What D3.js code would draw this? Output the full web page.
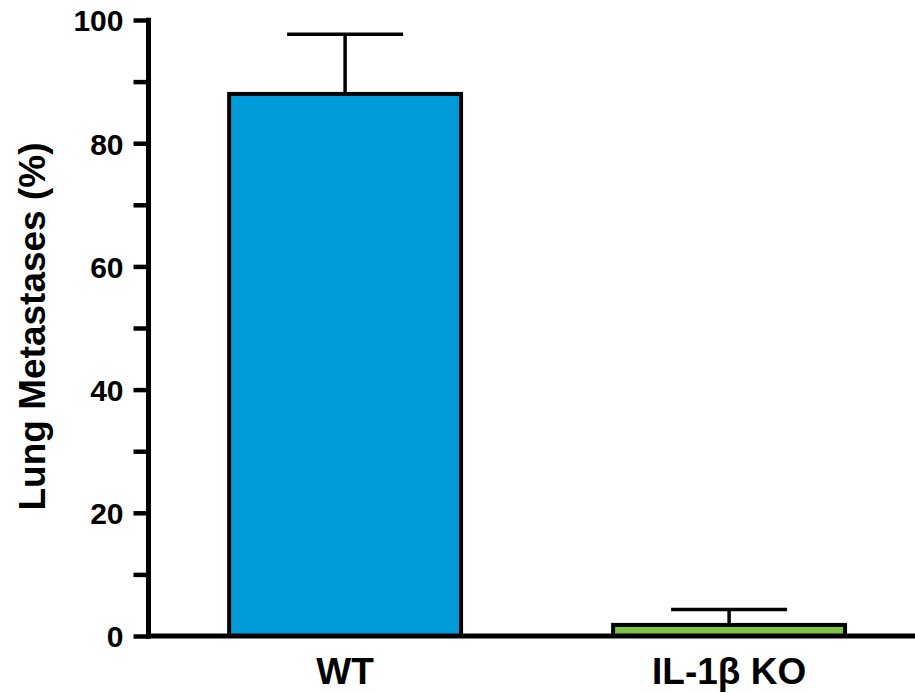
<!DOCTYPE html>
<html>
<head>
<meta charset="utf-8">
<script src="https://cdn.jsdelivr.net/npm/d3@7"></script>
<style>
  html, body { margin: 0; padding: 0; background: #fff; }
  svg { display: block; font-family: Arial, "Liberation Sans", sans-serif; }
</style>
</head>
<body>
<svg id="chart" width="915" height="693"></svg>
<script>
const categories = ["WT", "IL-1\u03B2 KO"];
const means = [88.0, 1.8];
const errors = [9.7, 2.5];
const barColors = ["#009BDB", "#7DC242"];
const yTicks = [0, 10, 20, 30, 40, 50, 60, 70, 80, 90, 100];
const yTickLabels = ["0", "", "20", "", "40", "", "60", "", "80", "", "100"];
const yTitle = "Lung Metastases (%)";

const svg = d3.select("#chart");
const axisX = 148.5, axisY = 636;

const y = d3.scaleLinear().domain([0, 100]).range([axisY, 20]);
const x = d3.scaleBand().domain(categories)
  .range([axisX, 925.7]).paddingInner(0.396).paddingOuter(0.21);

// bars
svg.selectAll("rect.bar").data(categories).enter().append("rect")
  .attr("class", "bar")
  .attr("x", d => x(d))
  .attr("width", x.bandwidth())
  .attr("y", (d, i) => y(means[i]))
  .attr("height", (d, i) => axisY - y(means[i]))
  .attr("fill", (d, i) => barColors[i])
  .attr("stroke", "#000")
  .attr("stroke-width", 4);

// error bars
const capW = 116;
categories.forEach((c, i) => {
  const cx = x(c) + x.bandwidth() / 2;
  svg.append("line")
    .attr("x1", cx).attr("x2", cx)
    .attr("y1", y(means[i])).attr("y2", y(means[i] + errors[i]))
    .attr("stroke", "#000").attr("stroke-width", 3.5);
  svg.append("line")
    .attr("x1", cx - capW / 2).attr("x2", cx + capW / 2)
    .attr("y1", y(means[i] + errors[i])).attr("y2", y(means[i] + errors[i]))
    .attr("stroke", "#000").attr("stroke-width", 3.5);
});

// y axis
const yAxis = d3.axisLeft(y).tickValues(yTicks)
  .tickFormat((d, i) => yTickLabels[i]).tickSize(15).tickPadding(10);
const gy = svg.append("g").attr("transform", `translate(${axisX},0)`).call(yAxis);
gy.select(".domain").remove();
gy.selectAll(".tick line").attr("stroke", "#000").attr("stroke-width", 4.5);
gy.selectAll(".tick text").attr("fill", "#000")
  .style("font-size", "30px").style("font-weight", "bold").attr("dy", "0.36em");
svg.append("line").attr("x1", axisX).attr("x2", axisX)
  .attr("y1", 17.8).attr("y2", axisY + 2.5)
  .attr("stroke", "#000").attr("stroke-width", 5);

// x axis
svg.append("line").attr("x1", axisX - 2.5).attr("x2", 915)
  .attr("y1", axisY).attr("y2", axisY)
  .attr("stroke", "#000").attr("stroke-width", 5);
svg.selectAll("text.xlab").data(categories).enter().append("text")
  .attr("class", "xlab")
  .attr("x", d => x(d) + x.bandwidth() / 2)
  .attr("y", 684)
  .attr("text-anchor", "middle")
  .style("font-size", "37px").style("font-weight", "bold")
  .text(d => d);

// y title
svg.append("text")
  .attr("transform", "translate(45,326.5) rotate(-90)")
  .attr("text-anchor", "middle")
  .style("font-size", "37px").style("font-weight", "bold")
  .text(yTitle);
</script>
</body>
</html>
